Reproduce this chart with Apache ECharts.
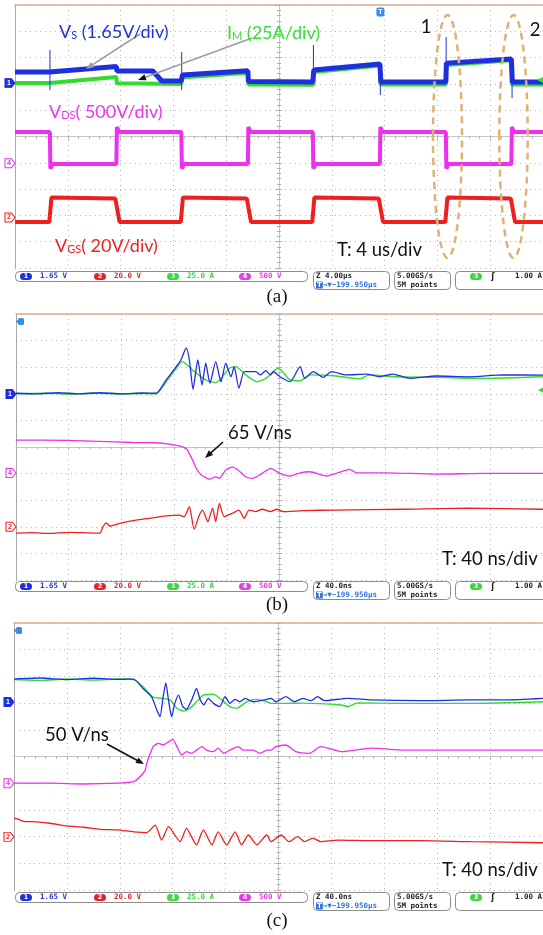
<!DOCTYPE html>
<html><head><meta charset="utf-8">
<script src="https://cdn.jsdelivr.net/npm/echarts@6/dist/echarts.min.js"></script>
<style>html,body{margin:0;padding:0;background:#fff}#c{width:543px;height:935px}</style>
</head><body><div id="c"></div><script>
// ---------- data (all values in screen divisions, centre = 0) ----------
const divMin = -5, divMax = 5;
const channelNames = ['1', '2', '3', '4'];
const channelScales = ['1.65 V', '20.0 V', '25.0 A', '500 V'];
const timeBases = ['4.00µs', '40.0ns', '40.0ns'];
const triggerPos = '−199.950µs';
const sampleRate = '5.00GS/s';
const recordLen = '5M points';
const triggerLevel = '1.00 A';

// (a) 4 us/div
const A_im = [[-5,2.03],[-4.34,2.03],[-4.33,2.07],[-3.08,2.26],[-3.07,2.02],[-1.85,2.0],[-1.84,2.24],[-0.59,2.42],[-0.58,1.98],[0.65,1.97],[0.66,2.45],[1.91,2.7],[1.92,1.98],[3.16,1.98],[3.17,2.72],[4.40,2.9],[4.41,1.98],[5,1.98]];
const A_vs = [[-5,2.45],[-4.34,2.45],[-4.33,2.5],[-3.08,2.66],[-3.07,2.49],[-2.39,2.49],[-2.22,2.11],[-1.85,2.11],[-1.83,2.34],[-0.59,2.5],[-0.58,2.09],[0.64,2.07],[0.66,2.53],[1.91,2.76],[1.93,2.07],[3.16,2.07],[3.17,2.79],[4.40,2.95],[4.42,2.07],[5,2.07]];
const A_vsSpikes = [[-4.338,3.29],[-4.338,1.77],[-4.338,null],[-1.843,3.21],[-1.843,1.77],[-1.843,null],[0.652,3.48],[0.652,2.0],[0.652,null],[1.919,2.6],[1.919,1.58],[1.919,null],[3.166,3.78],[3.166,2.0],[3.166,null],[4.414,2.9],[4.414,1.46]];
const A_vds = [[-5,0.17],[-4.34,0.17],[-4.33,-1.22],[-4.29,-1.05],[-3.08,-1.05],[-3.07,0.36],[-3.03,0.17],[-1.85,0.17],[-1.84,-1.22],[-1.80,-1.05],[-0.59,-1.05],[-0.58,0.36],[-0.54,0.17],[0.64,0.17],[0.65,-1.22],[0.69,-1.05],[1.91,-1.05],[1.92,0.36],[1.96,0.17],[3.16,0.17],[3.17,-1.22],[3.21,-1.05],[4.40,-1.05],[4.41,0.36],[4.45,0.17],[5,0.17]];
const A_vgs = [[-5,-3.25],[-4.35,-3.25],[-4.31,-2.32],[-3.10,-2.36],[-3.02,-3.25],[-1.86,-3.25],[-1.82,-2.32],[-0.61,-2.36],[-0.53,-3.25],[0.63,-3.25],[0.67,-2.32],[1.89,-2.36],[1.97,-3.25],[3.15,-3.25],[3.19,-2.32],[4.39,-2.36],[4.47,-3.25],[5,-3.25]];
const A_ground = {vs:2.03, vds:-1.02, vgs:-3.08};
const A_trigger = 1.92;

// (b) 40 ns/div, turn-off
const B_im = [[-5,2.0],[-4.5,2.02],[-4.0,1.99],[-3.5,2.02],[-3.0,1.99],[-2.6,2.01],[-2.34,2.0],[-2.15,2.45],[-1.96,2.96],[-1.84,3.21],[-1.65,2.89],[-1.40,2.52],[-1.21,2.42],[-0.95,2.96],[-0.83,3.02],[-0.64,2.71],[-0.42,2.45],[-0.26,2.58],[-0.02,2.96],[0.20,2.52],[0.39,2.49],[0.58,2.71],[1.08,2.67],[1.52,2.56],[1.71,2.71],[2.22,2.64],[2.97,2.62],[3.92,2.58],[5,2.64]];
const B_vs = [[-5,2.02],[-4.6,2.0],[-4.2,2.04],[-3.8,2.0],[-3.4,2.04],[-3.0,2.0],[-2.6,2.03],[-2.34,2.02],[-2.15,2.52],[-1.96,3.02],[-1.87,3.27],[-1.77,3.73],[-1.71,3.27],[-1.64,2.17],[-1.55,3.27],[-1.47,2.33],[-1.40,3.15],[-1.32,2.39],[-1.21,3.21],[-1.11,2.45],[-1.02,3.15],[-0.92,2.64],[-0.86,3.02],[-0.77,2.21],[-0.67,2.83],[-0.54,2.83],[-0.45,2.83],[-0.36,2.71],[-0.26,2.87],[-0.17,2.71],[-0.12,2.83],[0.01,2.64],[0.20,2.45],[0.39,3.02],[0.48,2.58],[0.64,2.83],[0.83,2.62],[0.99,2.83],[1.27,2.71],[1.65,2.74],[1.90,2.64],[2.15,2.74],[2.47,2.58],[2.97,2.67],[3.60,2.64],[4.23,2.71],[5,2.70]];
const B_vds = [[-5,0.26],[-4.04,0.25],[-3.41,0.21],[-2.79,0.17],[-2.34,0.16],[-2.09,0.11],[-1.90,0.04],[-1.77,-0.06],[-1.71,-0.26],[-1.65,-0.49],[-1.58,-0.80],[-1.50,-1.02],[-1.43,-1.12],[-1.33,-1.21],[-1.21,-1.12],[-1.14,-1.18],[-1.02,-0.86],[-0.89,-0.76],[-0.77,-0.89],[-0.64,-1.12],[-0.51,-1.18],[-0.33,-0.99],[-0.17,-0.80],[0.01,-0.99],[0.20,-1.09],[0.39,-0.97],[0.58,-0.93],[0.89,-1.09],[1.08,-0.99],[1.33,-0.84],[1.46,-0.97],[2.03,-0.97],[2.97,-1.02],[3.92,-0.99],[5,-0.99]];
const B_vgs = [[-5,-3.24],[-4.7,-3.22],[-4.36,-3.25],[-4.0,-3.21],[-3.73,-3.22],[-3.41,-3.24],[-3.35,-3.0],[-3.29,-2.85],[-3.22,-2.97],[-3.03,-2.87],[-2.78,-2.77],[-2.47,-2.68],[-2.15,-2.59],[-1.90,-2.56],[-1.81,-2.62],[-1.71,-2.24],[-1.62,-3.09],[-1.52,-2.56],[-1.46,-2.37],[-1.36,-2.81],[-1.27,-2.30],[-1.21,-2.81],[-1.14,-2.12],[-1.05,-2.62],[-0.89,-2.49],[-0.77,-2.37],[-0.67,-2.68],[-0.58,-2.37],[-0.45,-2.43],[-0.33,-2.34],[-0.17,-2.43],[-0.05,-2.34],[0.07,-2.43],[0.45,-2.39],[1.08,-2.37],[2.34,-2.34],[3.60,-2.30],[4.96,-2.34],[5,-2.34]];
const B_ground = {vs:1.99, vds:-0.98, vgs:-3.0};

// (c) 40 ns/div, turn-on
const C_im = [[-5,2.88],[-4.5,2.85],[-4.0,2.9],[-3.5,2.86],[-3.0,2.9],[-2.74,2.88],[-2.56,2.61],[-2.37,2.22],[-2.18,2.18],[-2.05,2.12],[-1.92,1.81],[-1.80,1.70],[-1.67,1.81],[-1.55,2.05],[-1.42,2.30],[-1.23,2.33],[-1.11,2.18],[-0.92,1.87],[-0.79,1.81],[-0.60,2.05],[-0.41,2.14],[-0.22,2.05],[-0.14,1.99],[0.17,1.99],[0.48,2.0],[1.18,1.93],[1.31,1.87],[1.50,2.01],[2.38,1.99],[3.64,1.99],[5,2.05]];
const C_vs = [[-5,2.90],[-4.5,2.94],[-4.0,2.88],[-3.5,2.93],[-3.0,2.89],[-2.74,2.90],[-2.56,2.55],[-2.40,2.24],[-2.30,1.74],[-2.24,1.49],[-2.18,2.24],[-2.13,2.76],[-2.08,2.12],[-2.02,1.49],[-1.96,1.99],[-1.89,2.30],[-1.81,1.87],[-1.74,1.77],[-1.64,2.12],[-1.55,2.55],[-1.48,2.12],[-1.41,1.93],[-1.33,2.18],[-1.23,1.99],[-1.11,1.87],[-1.01,2.24],[-0.92,1.99],[-0.82,2.14],[-0.73,2.05],[-0.63,2.18],[-0.48,2.05],[-0.22,2.14],[-0.14,2.18],[-0.05,2.05],[0.14,2.24],[0.30,2.05],[0.46,2.18],[0.61,2.09],[0.74,2.24],[0.87,2.09],[1.31,2.18],[1.75,2.12],[2.69,2.09],[3.64,2.12],[4.27,2.12],[5,2.18]];
const C_vds = [[-5,-1.0],[-4.32,-1.0],[-3.69,-1.03],[-3.06,-1.0],[-2.74,-0.94],[-2.62,-0.76],[-2.52,-0.51],[-2.49,-0.25],[-2.37,0.37],[-2.27,0.49],[-2.18,0.43],[-2.08,0.55],[-2.0,0.64],[-1.92,0.37],[-1.83,0.06],[-1.74,0.18],[-1.64,0.12],[-1.55,0.24],[-1.45,0.37],[-1.36,0.24],[-1.23,0.18],[-1.14,0.31],[-1.04,0.12],[-0.92,0.24],[-0.76,0.37],[-0.67,0.24],[-0.48,0.24],[-0.35,0.12],[-0.22,0.24],[-0.14,0.24],[-0.05,0.37],[0.14,0.43],[0.33,0.18],[0.58,0.12],[0.80,0.37],[1.21,0.18],[1.75,0.31],[2.38,0.24],[3.64,0.24],[5,0.24]];
const C_vgs = [[-5,-2.31],[-4.92,-2.35],[-4.79,-2.44],[-4.64,-2.44],[-4.32,-2.50],[-4.0,-2.60],[-3.69,-2.65],[-3.37,-2.73],[-3.06,-2.75],[-2.74,-2.82],[-2.49,-2.85],[-2.33,-2.57],[-2.21,-3.13],[-2.08,-2.63],[-1.86,-3.19],[-1.74,-2.69],[-1.55,-3.31],[-1.42,-2.75],[-1.26,-3.31],[-1.14,-2.82],[-0.98,-3.31],[-0.82,-2.82],[-0.70,-3.31],[-0.57,-2.94],[-0.41,-3.31],[-0.22,-2.94],[-0.14,-3.19],[0.05,-2.94],[0.20,-3.19],[0.36,-3.0],[0.49,-3.19],[0.65,-3.06],[0.80,-3.19],[1.12,-3.13],[1.75,-3.15],[2.69,-3.15],[3.64,-3.19],[5,-3.23]];
const C_ground = {vs:2.04, vds:-1.0, vgs:-3.01};

// ---------- styling ----------
const COL = {blue:'#1f2fe0', green:'#2fdc2f', mag:'#ee2fee', red:'#ee1f1f'};
const grids = [
  {left:15, top:5, width:529, height:263},
  {left:16, top:314, width:529, height:266},
  {left:14, top:623, width:529, height:267}
];
const xAxis = [], yAxis = [];
grids.forEach((g, i) => {
  const base = {gridIndex:i, type:'value', min:divMin, max:divMax, interval:1, axisLabel:{show:false}};
  xAxis.push(Object.assign({}, base, {position:'top', axisLine:{show:true, onZero:false, lineStyle:{color:'#d9ae8e', width:1.5}}, axisTick:{show:false}, splitLine:{show:true, lineStyle:{color:'#b4b4b4', type:[1,4], width:1}}}));
  [false, true].forEach(inside => xAxis.push(Object.assign({}, base, {axisLine:{show:true, onZero:true, onZeroAxisIndex:3*i, lineStyle:{color:'#c6c6c6', width:1}}, axisTick:{show:true, inside, length:3, lineStyle:{color:'#b0b0b0'}}, minorTick:{show:true, splitNumber:5, length:2, lineStyle:{color:'#b0b0b0'}}, splitLine:{show:false}})));
  yAxis.push(Object.assign({}, base, {position:'left', axisLine:{show:true, onZero:false, lineStyle:{color:'#a8a8a8', width:1}}, axisTick:{show:false}, splitLine:{show:true, lineStyle:{color:'#b4b4b4', type:[1,4], width:1}}}));
  [false, true].forEach(inside => yAxis.push(Object.assign({}, base, {axisLine:{show:true, onZero:true, onZeroAxisIndex:3*i, lineStyle:{color:'#c6c6c6', width:1}}, axisTick:{show:true, inside, length:3, lineStyle:{color:'#b0b0b0'}}, minorTick:{show:true, splitNumber:5, length:2, lineStyle:{color:'#b0b0b0'}}, splitLine:{show:false}})));
});

function chMarker(num, level, color, filled) {
  return {coord:[divMin, level], symbol:'path://M0,0L7,0L11,5L7,10L0,10Z', symbolSize:[10,9], symbolOffset:[-5,0],
    itemStyle:{color: filled ? color : '#fff', borderColor:color, borderWidth:1},
    label:{show:true, position:'inside', formatter:num, color: filled ? '#fff' : color, fontSize:7, fontWeight:'bold', offset:[-1,0]}};
}
function line(grid, data, color, width, smooth, marks) {
  const s = {type:'line', xAxisIndex:3*grid, yAxisIndex:3*grid, data, symbol:'none', showSymbol:false, smooth: smooth || false,
    lineStyle:{color, width}, itemStyle:{color}, connectNulls:false, clip:true, animation:false, silent:true};
  if (marks) s.markPoint = {silent:true, animation:false, data:marks};
  return s;
}
const series = [
  line(0, A_im, COL.green, 4),
  line(0, A_vs, COL.blue, 5, false, [chMarker('1', A_ground.vs, COL.blue, true),
     {coord:[A_trigger, divMax], symbol:'roundRect', symbolSize:[8,9], symbolOffset:[0,7], itemStyle:{color:'#3b8ee6'}, label:{show:true, position:'inside', formatter:'T', color:'#fff', fontSize:7, fontWeight:'bold'}}]),
  line(0, A_vsSpikes, COL.blue, 1),
  line(0, A_vds, COL.mag, 4, false, [chMarker('4', A_ground.vds, COL.mag, false)]),
  line(0, A_vgs, COL.red, 4, false, [chMarker('2', A_ground.vgs, COL.red, false)]),
  line(1, B_im, COL.green, 1.4, 0.2),
  line(1, B_vs, COL.blue, 1.3, 0.2, [chMarker('1', B_ground.vs, COL.blue, true)]),
  line(1, B_vds, COL.mag, 1.3, 0.2, [chMarker('4', B_ground.vds, COL.mag, false)]),
  line(1, B_vgs, COL.red, 1.3, 0.2, [chMarker('2', B_ground.vgs, COL.red, false)]),
  line(2, C_im, COL.green, 1.4, 0.2),
  line(2, C_vs, COL.blue, 1.3, 0.2, [chMarker('1', C_ground.vs, COL.blue, true)]),
  line(2, C_vds, COL.mag, 1.3, 0.2, [chMarker('4', C_ground.vds, COL.mag, false)]),
  line(2, C_vgs, COL.red, 1.3, 0.2, [chMarker('2', C_ground.vgs, COL.red, false)])
];

// ---------- decorations ----------
const els = [];
function txt(x, y, text, font, fill, align, extra) {
  els.push({type:'text', z:100, x, y, style:Object.assign({text, font, fill, textFill:fill, align:align||'left', textAlign:align||'left', verticalAlign:'middle', textVerticalAlign:'middle'}, extra||{})});
}
function richLabel(x, y, main, sub, rest, color) {
  const m = {fontSize:18, fontFamily:'Lato', fill:color, lineHeight:20, verticalAlign:'bottom'};
  const s = {fontSize:11, fontFamily:'Lato', fill:color, lineHeight:10, verticalAlign:'bottom'};
  els.push({type:'text', z:100, x, y, style:{text:'{m|' + main + '}{s|' + sub + '}{m|' + rest + '}', rich:{m, s}, verticalAlign:'middle', textVerticalAlign:'middle'}});
}
function arrow(x1, y1, x2, y2, lineColor, headColor) {
  const dx = x2 - x1, dy = y2 - y1, L = Math.hypot(dx, dy), ux = dx / L, uy = dy / L;
  const hl = 8, hw = 3.2, bx = x2 - ux * hl, by = y2 - uy * hl;
  els.push({type:'line', z:90, shape:{x1, y1, x2:bx + ux, y2:by + uy}, style:{stroke:lineColor, lineWidth:1.6}});
  els.push({type:'polygon', z:91, shape:{points:[[x2, y2], [bx - uy * hw, by + ux * hw], [bx + uy * hw, by - ux * hw]]}, style:{fill:headColor}});
}
function statusBar(top, tb) {
  const mono = 'bold 7.5px "DejaVu Sans Mono"';
  const r1 = top + 5, r2 = top + 13.5;
  els.push({type:'rect', z:50, shape:{x:15.5, y:top, width:292, height:10, r:4}, style:{fill:'#fff', stroke:'#8c8c8c', lineWidth:1}});
  const chs = [{c:COL.blue, t:'#2436c8', bx:26, tx:40}, {c:'#e0262a', t:'#e0262a', bx:100, tx:114}, {c:'#3fd63f', t:'#3fd03f', bx:173, tx:187}, {c:'#e43fe4', t:'#e43fe4', bx:245, tx:259}];
  chs.forEach((ch, i) => {
    els.push({type:'rect', z:51, shape:{x:ch.bx - 6, y:top + 1.5, width:12, height:7, r:3.5}, style:{fill:ch.c}});
    txt(ch.bx, top + 5, channelNames[i], 'bold 6.5px "DejaVu Sans"', '#fff', 'center');
    txt(ch.tx, top + 5, channelScales[i], mono, ch.t, 'left');
  });
  els.push({type:'rect', z:50, shape:{x:313.5, y:top, width:76, height:18, r:4}, style:{fill:'#fff', stroke:'#8c8c8c', lineWidth:1}});
  txt(316, r1, 'Z ' + tb, mono, '#222', 'left');
  els.push({type:'text', z:100, x:316, y:r2, style:{text:'{t|T}{b|→▼' + triggerPos + '}', rich:{t:{fontSize:7, fontWeight:'bold', fontFamily:'DejaVu Sans', fill:'#fff', backgroundColor:'#2f72d8', padding:[0,1,0,1]}, b:{fontSize:7.5, fontWeight:'bold', fontFamily:'DejaVu Sans Mono', fill:'#2f72d8'}}, verticalAlign:'middle', textVerticalAlign:'middle'}});
  els.push({type:'rect', z:50, shape:{x:394.5, y:top, width:56, height:18, r:4}, style:{fill:'#fff', stroke:'#8c8c8c', lineWidth:1}});
  txt(397, r1, sampleRate, mono, '#222', 'left');
  txt(397, r2, recordLen, mono, '#222', 'left');
  els.push({type:'rect', z:50, shape:{x:455.5, y:top, width:95, height:18, r:4}, style:{fill:'#fff', stroke:'#8c8c8c', lineWidth:1}});
  els.push({type:'rect', z:51, shape:{x:470, y:top + 1.5, width:12, height:7, r:3.5}, style:{fill:'#3fd63f'}});
  txt(476, top + 5, '3', 'bold 6.5px "DejaVu Sans"', '#fff', 'center');
  txt(493, r1, 'ʃ', 'bold 8px "DejaVu Sans"', '#222', 'center');
  txt(515, r1, triggerLevel, mono, '#222', 'left');
}

// panel (a)
els.push({type:'ellipse', z:80, shape:{cx:447.5, cy:136.5, rx:14.5, ry:121.5}, style:{fill:'none', stroke:'#dfb273', lineWidth:2.5, lineDash:[7,5]}});
els.push({type:'ellipse', z:80, shape:{cx:513.5, cy:136.5, rx:14.2, ry:121.5}, style:{fill:'none', stroke:'#dfb273', lineWidth:2.5, lineDash:[7,5]}});
arrow(140, 34, 86, 69, '#9d9d9d', '#9d9d9d');
arrow(252, 38, 138, 80, '#9d9d9d', '#111');
richLabel(59, 31, 'V', 'S', ' (1.65V/div)', '#2231d8');
richLabel(227, 32, 'I', 'M', ' (25A/div)', '#35e035');
richLabel(49, 111, 'V', 'DS', '( 500V/div)', '#ee33ee');
richLabel(55, 245, 'V', 'GS', '( 20V/div)', '#ee2222');
txt(337, 250, 'T: 4 us/div', '18.5px Lato', '#111', 'left');
txt(426, 27, '1', '18.5px Lato', '#111', 'center');
txt(535, 30, '2', '18.5px Lato', '#111', 'center');
els.push({type:'polygon', z:60, shape:{points:[[537,80],[543,77],[543,83]]}, style:{fill:'#2fdc2f'}});
statusBar(271.5, timeBases[0]);
txt(277, 297, '(a)', '19px "Liberation Serif"', '#111', 'center');

// panel (b)
arrow(223, 442, 205, 458, '#111', '#111');
txt(228, 433, '65 V/ns', '18.5px Lato', '#111', 'left');
txt(442, 559, 'T: 40 ns/div', '18.5px Lato', '#111', 'left');
els.push({type:'rect', z:60, shape:{x:18, y:318, width:6, height:7, r:1.5}, style:{fill:'#3b8ee6'}});
els.push({type:'polygon', z:60, shape:{points:[[16,321.5],[18.5,319],[18.5,324]]}, style:{fill:'#3b8ee6'}});
els.push({type:'polygon', z:60, shape:{points:[[538,390],[543,387.5],[543,392.5]]}, style:{fill:'#2fdc2f'}});
statusBar(581.5, timeBases[1]);
txt(277, 605, '(b)', '19px "Liberation Serif"', '#111', 'center');

// panel (c)
arrow(107, 744, 144, 764, '#111', '#111');
txt(45, 735, '50 V/ns', '18.5px Lato', '#111', 'left');
txt(442, 870, 'T: 40 ns/div', '18.5px Lato', '#111', 'left');
els.push({type:'rect', z:60, shape:{x:16, y:627, width:6, height:7, r:1.5}, style:{fill:'#3b8ee6'}});
els.push({type:'polygon', z:60, shape:{points:[[14,630.5],[16.5,628],[16.5,633]]}, style:{fill:'#3b8ee6'}});
statusBar(892.5, timeBases[2]);
txt(277, 921, '(c)', '19px "Liberation Serif"', '#111', 'center');

const chart = echarts.init(document.getElementById('c'), null, {renderer:'canvas'});
chart.setOption({animation:false, backgroundColor:'#fff', grid:grids, xAxis, yAxis, series, graphic:{elements:els}});
</script></body></html>
